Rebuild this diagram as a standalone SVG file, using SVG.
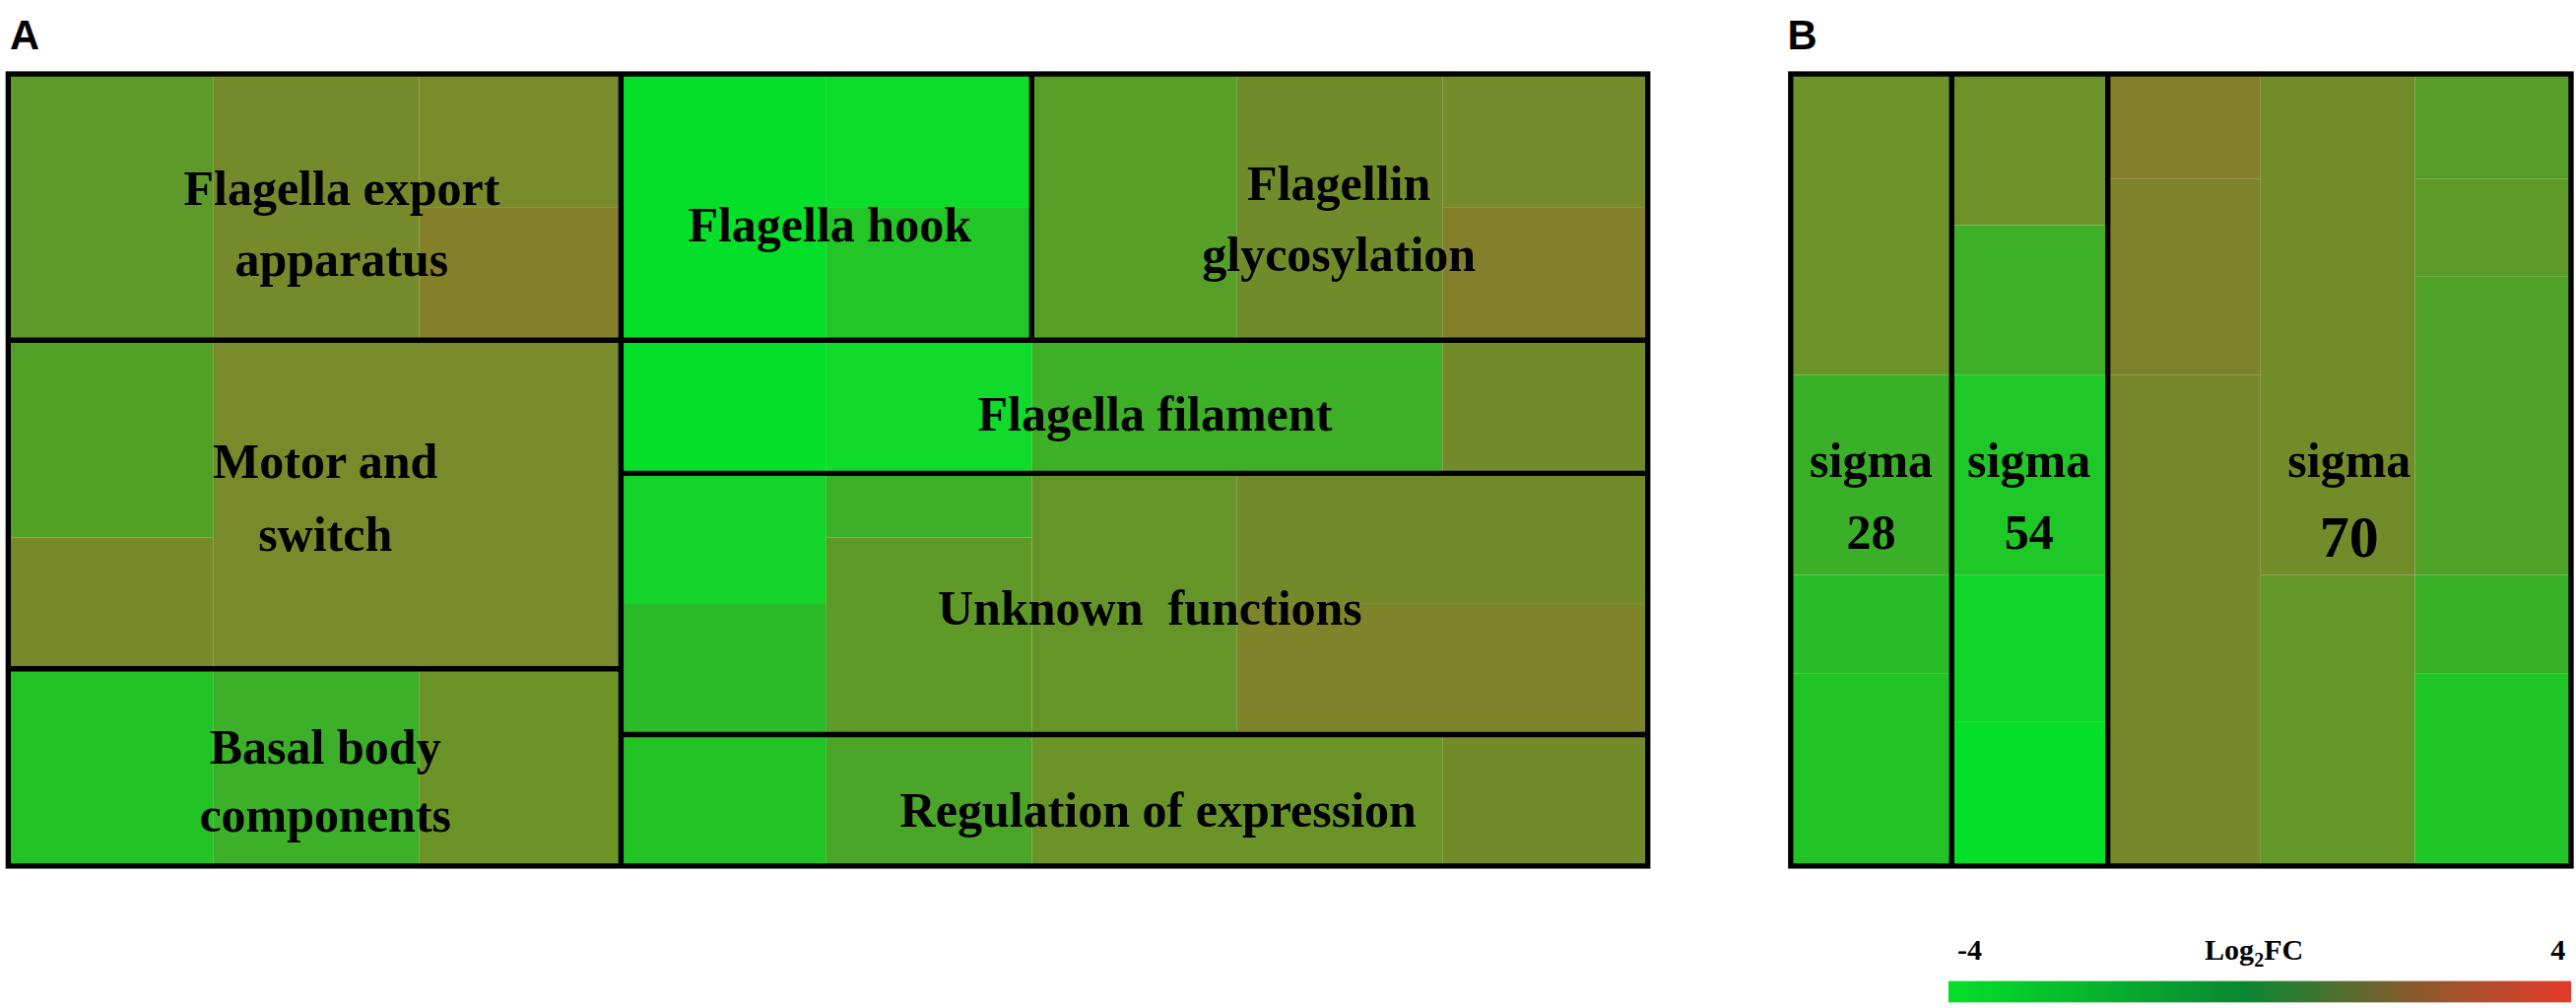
<svg xmlns="http://www.w3.org/2000/svg" width="2615" height="1023" viewBox="0 0 2615 1023">
<style>
.t{font-family:"Liberation Serif",serif;font-weight:bold;font-size:30px;fill:#000;text-anchor:middle}
.p{font-family:"Liberation Sans",sans-serif;font-weight:bold;font-size:25px;fill:#000}
.b{fill:none;stroke:#000;stroke-width:3.2}
.c{font-family:"Liberation Serif",serif;font-weight:bold;font-size:18px;fill:#000;text-anchor:middle}
</style>
<defs>
<linearGradient id="g" x1="0" x2="1" y1="0" y2="0">
<stop offset="0" stop-color="#04e02a"/><stop offset="0.48" stop-color="#0a8630"/><stop offset="0.75" stop-color="#8a5a2c"/><stop offset="1" stop-color="#e53a2a"/>
</linearGradient>
</defs>
<rect width="2615" height="1023" fill="#fff"/>
<g transform="scale(1.66773)">
<text class="p" x="6" y="30">A</text>
<text class="p" x="1088" y="30">B</text>
<g id="tiles">
<rect x="5" y="45" width="125" height="162" fill="#5e9a2a"/>
<rect x="130" y="45" width="125" height="162" fill="#758a2a"/>
<rect x="255" y="45" width="123" height="81" fill="#788a2a"/>
<rect x="255" y="126" width="123" height="81" fill="#857f2a"/>
<rect x="5" y="207" width="125" height="120" fill="#52a127"/>
<rect x="5" y="327" width="125" height="80" fill="#778a2a"/>
<rect x="130" y="207" width="248" height="200" fill="#788a2a"/>
<rect x="5" y="407" width="125" height="120" fill="#22c425"/>
<rect x="130" y="407" width="125" height="120" fill="#3cb028"/>
<rect x="255" y="407" width="123" height="120" fill="#6a9428"/>
<rect x="378" y="45" width="125" height="162" fill="#04e02a"/>
<rect x="503" y="45" width="125" height="81" fill="#0cdc2a"/>
<rect x="503" y="126" width="125" height="81" fill="#22c626"/>
<rect x="628" y="45" width="125" height="162" fill="#56a028"/>
<rect x="753" y="45" width="125" height="162" fill="#708c2a"/>
<rect x="878" y="45" width="125" height="81" fill="#758a2a"/>
<rect x="878" y="126" width="125" height="81" fill="#837f2a"/>
<rect x="378" y="207" width="125" height="81" fill="#04e02a"/>
<rect x="503" y="207" width="125" height="81" fill="#10da2a"/>
<rect x="628" y="207" width="250" height="81" fill="#3db028"/>
<rect x="878" y="207" width="125" height="81" fill="#718a2a"/>
<rect x="378" y="288" width="125" height="79" fill="#14d42a"/>
<rect x="378" y="367" width="125" height="80" fill="#2cbb28"/>
<rect x="503" y="288" width="125" height="39" fill="#3cb028"/>
<rect x="503" y="327" width="125" height="120" fill="#5f9a28"/>
<rect x="628" y="288" width="125" height="159" fill="#659528"/>
<rect x="753" y="288" width="250" height="79" fill="#738a2a"/>
<rect x="753" y="367" width="250" height="80" fill="#7e842a"/>
<rect x="378" y="447" width="125" height="80" fill="#22c425"/>
<rect x="503" y="447" width="125" height="80" fill="#4aa528"/>
<rect x="628" y="447" width="250" height="80" fill="#6a9428"/>
<rect x="878" y="447" width="125" height="80" fill="#738a2a"/>
<rect x="1090" y="45" width="98" height="183" fill="#6b9428"/>
<rect x="1090" y="228" width="98" height="122" fill="#3aaf28"/>
<rect x="1090" y="350" width="98" height="60" fill="#28bd28"/>
<rect x="1090" y="410" width="98" height="117" fill="#22c425"/>
<rect x="1188" y="45" width="95" height="92" fill="#6b9128"/>
<rect x="1188" y="137" width="95" height="91" fill="#3db028"/>
<rect x="1188" y="228" width="95" height="122" fill="#1dc827"/>
<rect x="1188" y="350" width="95" height="89" fill="#10d629"/>
<rect x="1188" y="439" width="95" height="88" fill="#04e02a"/>
<rect x="1283" y="45" width="93" height="64" fill="#847f2a"/>
<rect x="1283" y="109" width="93" height="119" fill="#7c832a"/>
<rect x="1283" y="228" width="93" height="299" fill="#76882a"/>
<rect x="1376" y="45" width="94" height="305" fill="#728c2a"/>
<rect x="1376" y="350" width="94" height="177" fill="#659628"/>
<rect x="1470" y="45" width="95" height="64" fill="#569d27"/>
<rect x="1470" y="109" width="95" height="59" fill="#5e9a28"/>
<rect x="1470" y="168" width="95" height="182" fill="#50a128"/>
<rect x="1470" y="350" width="95" height="60" fill="#3ab028"/>
<rect x="1470" y="410" width="95" height="117" fill="#20c626"/>
</g>
<g id="borders">
<rect class="b" x="5" y="45" width="998" height="482"/>
<path class="b" d="M378 45V527M5 207H1003M5 407H378M628 45V207M378 288H1003M378 447H1003"/>
<rect class="b" x="1090" y="45" width="475" height="482"/>
<path class="b" d="M1188 45V527M1283 45V527"/>
</g>
<g id="n-export"><text class="t" x="208" y="125">Flagella export</text><text class="t" x="208" y="168">apparatus</text></g>
<g id="n-hook"><text class="t" x="505" y="147">Flagella hook</text></g>
<g id="n-glyco"><text class="t" x="815" y="122">Flagellin</text><text class="t" x="815" y="165">glycosylation</text></g>
<g id="n-motor"><text class="t" x="198" y="291">Motor and</text><text class="t" x="198" y="335">switch</text></g>
<g id="n-filament"><text class="t" x="703" y="262">Flagella filament</text></g>
<g id="n-unknown"><text class="t" x="700" y="380" xml:space="preserve">Unknown  functions</text></g>
<g id="n-basal"><text class="t" x="198" y="465">Basal body</text><text class="t" x="198" y="506">components</text></g>
<g id="n-reg"><text class="t" x="705" y="503">Regulation of expression</text></g>
<g id="n-s28"><text class="t" x="1139" y="290">sigma</text><text class="t" x="1139" y="334">28</text></g>
<g id="n-s54"><text class="t" x="1235" y="290">sigma</text><text class="t" x="1235" y="334">54</text></g>
<g id="n-s70"><text class="t" x="1430" y="290">sigma</text><text class="t" x="1430" y="339" style="font-size:36px">70</text></g>
<g id="legend">
<rect x="1186" y="597" width="379" height="13" fill="url(#g)"/>
<text class="c" x="1199" y="584">-4</text>
<text class="c" x="1372" y="584">Log<tspan font-size="12" dy="4">2</tspan><tspan dy="-4">FC</tspan></text>
<text class="c" x="1557" y="584">4</text>
</g>
</g>
</svg>
